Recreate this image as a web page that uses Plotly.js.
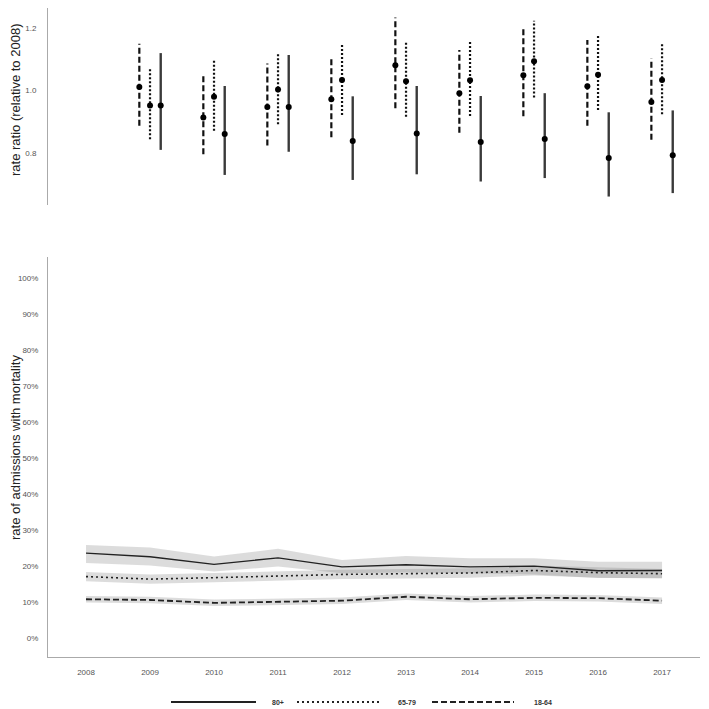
<!DOCTYPE html>
<html>
<head>
<meta charset="utf-8">
<script src="https://cdn.plot.ly/plotly-3.0.1.min.js"></script>
<style>html,body{margin:0;padding:0;background:#fff;}#chart{width:709px;height:709px;}</style>
</head>
<body>
<div id="chart"></div>
<script>
// ---- data ----
const years = [2008, 2009, 2010, 2011, 2012, 2013, 2014, 2015, 2016, 2017];
const rrYears = [2009, 2010, 2011, 2012, 2013, 2014, 2015, 2016, 2017];

// rate ratio (relative to 2008)
const rr1864    = [1.012, 0.914, 0.948, 0.973, 1.081, 0.992, 1.049, 1.014, 0.964];
const rr1864Lo  = [0.888, 0.797, 0.825, 0.851, 0.944, 0.866, 0.918, 0.888, 0.843];
const rr1864Hi  = [1.150, 1.046, 1.087, 1.109, 1.234, 1.130, 1.196, 1.162, 1.103];
const rr6579    = [0.953, 0.981, 1.004, 1.034, 1.030, 1.033, 1.094, 1.051, 1.034];
const rr6579Lo  = [0.845, 0.872, 0.893, 0.922, 0.917, 0.919, 0.978, 0.938, 0.925];
const rr6579Hi  = [1.072, 1.098, 1.121, 1.149, 1.156, 1.158, 1.223, 1.180, 1.151];
const rr80      = [0.953, 0.862, 0.948, 0.839, 0.863, 0.836, 0.846, 0.785, 0.794];
const rr80Lo    = [0.811, 0.731, 0.805, 0.715, 0.733, 0.710, 0.721, 0.662, 0.673];
const rr80Hi    = [1.120, 1.015, 1.114, 0.982, 1.015, 0.983, 0.992, 0.931, 0.937];

// rate of admissions with mortality (%)
const mort80     = [23.7, 22.7, 20.6, 22.4, 19.9, 20.5, 19.9, 20.1, 18.8, 18.9];
const mort80Lo   = [21.0, 20.3, 18.6, 20.0, 18.1, 18.3, 18.1, 17.8, 16.8, 16.8];
const mort80Hi   = [26.0, 25.3, 22.8, 24.9, 21.8, 22.9, 22.3, 22.3, 21.3, 21.3];
const mort6579   = [17.2, 16.5, 16.9, 17.4, 17.8, 18.0, 18.2, 18.9, 18.3, 18.0];
const mort6579Lo = [15.9, 15.2, 15.6, 16.1, 16.5, 16.7, 16.9, 17.5, 16.9, 16.7];
const mort6579Hi = [18.5, 17.8, 18.2, 18.7, 19.1, 19.3, 19.5, 20.3, 19.7, 19.3];
const mort1864   = [10.9, 10.7, 9.9, 10.2, 10.5, 11.6, 10.9, 11.3, 11.2, 10.5];
const mort1864Lo = [10.0, 9.8, 9.0, 9.3, 9.6, 10.7, 10.0, 10.4, 10.3, 9.6];
const mort1864Hi = [11.8, 11.6, 10.8, 11.1, 11.4, 12.5, 11.8, 12.2, 12.1, 11.4];

const groupNames = ['80+', '65-79', '18-64'];
const yTicksTop = [0.8, 1.0, 1.2];
const yTicksTopText = ['0.8', '1.0', '1.2'];
const yTicksBottom = [0, 10, 20, 30, 40, 50, 60, 70, 80, 90, 100];
const yTicksBottomText = ['0%', '10%', '20%', '30%', '40%', '50%', '60%', '70%', '80%', '90%', '100%'];

// ---- styles ----
const styles = {
  '80+':   {dash: 'solid',     width: 2.4, color: '#3a3a3a', lw: 1.4, off: 0.167},
  '65-79': {dash: '2px,2px',   width: 2.2, color: '#111',    lw: 1.6, off: 0.0},
  '18-64': {dash: '6px,3px',   width: 2.2, color: '#111',    lw: 1.8, off: -0.167}
};
const bottomDash = {'80+': 'solid', '65-79': '2px,3px', '18-64': '6px,3px'};

// ---- traces ----
const traces = [];
const rrSets = [
  ['18-64', rr1864, rr1864Lo, rr1864Hi],
  ['65-79', rr6579, rr6579Lo, rr6579Hi],
  ['80+', rr80, rr80Lo, rr80Hi]
];
rrSets.forEach(([name, est, lo, hi]) => {
  const s = styles[name];
  const xs = [], ys = [];
  rrYears.forEach((yr, i) => { xs.push(yr + s.off, yr + s.off, null); ys.push(lo[i], hi[i], null); });
  traces.push({x: xs, y: ys, mode: 'lines', xaxis: 'x', yaxis: 'y2', showlegend: false, hoverinfo: 'skip',
    line: {color: s.color, width: s.width, dash: s.dash}, connectgaps: false});
  traces.push({x: rrYears.map(yr => yr + s.off), y: est, mode: 'markers', xaxis: 'x', yaxis: 'y2',
    showlegend: false, marker: {color: '#000', size: 6}});
});

const mortSets = [
  ['80+', mort80, mort80Lo, mort80Hi],
  ['65-79', mort6579, mort6579Lo, mort6579Hi],
  ['18-64', mort1864, mort1864Lo, mort1864Hi]
];
mortSets.forEach(([name, est, lo, hi]) => {
  traces.push({x: years, y: hi, mode: 'lines', line: {width: 0, color: 'rgba(0,0,0,0)'}, xaxis: 'x', yaxis: 'y',
    showlegend: false, hoverinfo: 'skip'});
  traces.push({x: years, y: lo, mode: 'lines', line: {width: 0, color: 'rgba(0,0,0,0)'}, fill: 'tonexty',
    fillcolor: 'rgba(128,128,128,0.28)', xaxis: 'x', yaxis: 'y', showlegend: false, hoverinfo: 'skip'});
});
mortSets.forEach(([name, est]) => {
  traces.push({x: years, y: est, mode: 'lines', name: name, xaxis: 'x', yaxis: 'y', showlegend: false,
    line: {color: '#222', width: styles[name].lw, dash: bottomDash[name]}});
});

// ---- legend (custom, long line samples) ----
const L = 48, R = 700, T = 8, B = 657;
const px = v => (v - L) / (R - L);
const py = v => (B - v) / (B - T);
const legendItems = [
  {name: '80+', x0: 171, x1: 256, tx: 270},
  {name: '65-79', x0: 297, x1: 380, tx: 396},
  {name: '18-64', x0: 432, x1: 514, tx: 532}
];
const shapes = legendItems.map(it => ({type: 'line', xref: 'paper', yref: 'paper',
  x0: px(it.x0), x1: px(it.x1), y0: py(702), y1: py(702),
  line: {color: '#222', width: it.name === '80+' ? 2 : 1.8, dash: bottomDash[it.name]}}));
const annotations = legendItems.map(it => ({xref: 'paper', yref: 'paper', x: px(it.tx), y: py(702),
  xanchor: 'left', yanchor: 'middle', text: it.name, showarrow: false,
  font: {family: 'Liberation Sans, Arial, sans-serif', size: 7, color: '#333', weight: 'bold'}}));
annotations.push({xref: 'paper', yref: 'paper', x: px(15), y: py(100), textangle: -90, showarrow: false,
  xanchor: 'center', yanchor: 'middle',
  text: 'rate ratio (relative to 2008)', font: {family: 'Liberation Sans, Arial, sans-serif', size: 13, color: '#222'}});
annotations.push({xref: 'paper', yref: 'paper', x: px(15), y: py(448), textangle: -90, showarrow: false,
  xanchor: 'center', yanchor: 'middle',
  text: 'rate of admissions with mortality', font: {family: 'Liberation Sans, Arial, sans-serif', size: 13, color: '#222'}});

const tickFont = {family: 'Liberation Sans, Arial, sans-serif', size: 8, color: '#555'};
const layout = {
  width: 709, height: 709,
  margin: {l: L, r: 709 - R, t: T, b: 709 - B},
  paper_bgcolor: '#fff', plot_bgcolor: '#fff',
  showlegend: false,
  xaxis: {range: [2007.406, 2017.593], tickmode: 'array', tickvals: years, ticktext: years.map(String), showgrid: false,
    zeroline: false, showline: true, linecolor: '#aaa', linewidth: 1, ticks: '', ticklabelstandoff: 7,
    tickfont: tickFont, anchor: 'y'},
  yaxis: {domain: [0, py(257)], range: [-5.14, 105.97], tickmode: 'array', tickvals: yTicksBottom, ticktext: yTicksBottomText,
    showgrid: false, zeroline: false, showline: true, linecolor: '#aaa', linewidth: 1, ticks: '',
    ticklabelstandoff: 7, tickfont: tickFont},
  yaxis2: {domain: [py(205), 1], range: [0.635, 1.264], tickmode: 'array', tickvals: yTicksTop, ticktext: yTicksTopText,
    showgrid: false, zeroline: false, showline: true, linecolor: '#aaa', linewidth: 1, ticks: '',
    ticklabelstandoff: 9, tickfont: tickFont, anchor: 'x'},
  shapes: shapes,
  annotations: annotations
};

Plotly.newPlot('chart', traces, layout, {staticPlot: true, displayModeBar: false});
</script>
</body>
</html>
